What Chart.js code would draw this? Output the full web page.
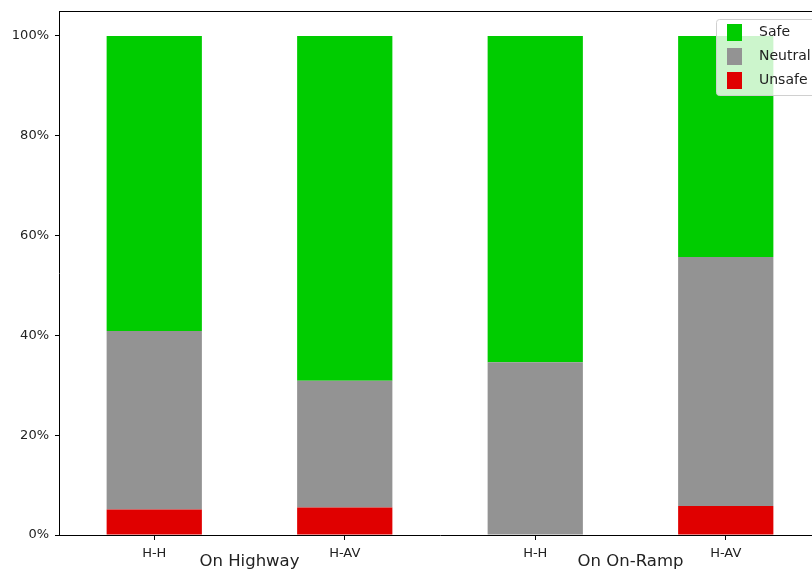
<!DOCTYPE html>
<html>
<head>
<meta charset="utf-8">
<script src="https://cdn.jsdelivr.net/npm/chart.js@4"></script>
<style>
  html, body { margin: 0; padding: 0; overflow: hidden; background: #fff; }
  #wrap { width: 830px; height: 577px; }
</style>
</head>
<body>
<div id="wrap"><canvas id="chart" width="830" height="577"></canvas></div>
<script>
// === Data ===
const categories = ["H-H", "H-AV", "H-H", "H-AV"];
const groups = ["On Highway", "On On-Ramp"];
const unsafe = [5.1, 5.5, 0, 5.8];
const neutral = [35.8, 25.4, 34.6, 49.9];
const safe = [59.1, 69.1, 65.4, 44.3];
const yTicks = [0, 20, 40, 60, 80, 100];

const C_SAFE = "#00cc00";
const C_NEUTRAL = "#939393";
const C_UNSAFE = "#e00000";
const FONT = "'DejaVu Sans', sans-serif";

// === Extras: top spine, group labels, legend ===
const extras = {
  id: "extras",
  afterDraw(chart) {
    const ctx = chart.ctx;
    const a = chart.chartArea;
    const x = chart.scales.x;

    // top spine
    ctx.save();
    ctx.strokeStyle = "#000";
    ctx.lineWidth = 1;
    ctx.beginPath();
    ctx.moveTo(a.left, a.top + 0.5);
    ctx.lineTo(a.right, a.top + 0.5);
    ctx.stroke();

    // group labels under pairs of bars
    ctx.fillStyle = "#222";
    ctx.font = "16.5px " + FONT;
    ctx.textAlign = "center";
    ctx.textBaseline = "middle";
    groups.forEach((g, i) => {
      const px = x.getPixelForValue(i * 2 + 0.5);
      ctx.fillText(g, px, 562);
    });

    // legend (top right, inside plot)
    const items = [["Safe", C_SAFE], ["Neutral", C_NEUTRAL], ["Unsafe", C_UNSAFE]];
    const bx = 716, by = 19, bw = 100, bh = 76;
    ctx.fillStyle = "rgba(255,255,255,0.8)";
    ctx.strokeStyle = "#d0d0d0";
    ctx.beginPath();
    ctx.roundRect(bx + 0.5, by + 0.5, bw, bh, 3);
    ctx.fill();
    ctx.stroke();
    ctx.font = "14px " + FONT;
    ctx.textAlign = "left";
    items.forEach(([label, col], i) => {
      const cy = 32.5 + i * 24;
      ctx.fillStyle = col;
      ctx.fillRect(727, cy - 8.5, 15, 17);
      ctx.fillStyle = "#222";
      ctx.fillText(label, 759, cy);
    });
    ctx.restore();
  }
};

// === Chart ===
new Chart(document.getElementById("chart"), {
  type: "bar",
  data: {
    labels: categories,
    datasets: [
      { label: "Unsafe", data: unsafe, backgroundColor: C_UNSAFE },
      { label: "Neutral", data: neutral, backgroundColor: C_NEUTRAL },
      { label: "Safe", data: safe, backgroundColor: C_SAFE },
    ],
  },
  options: {
    responsive: false,
    animation: false,
    layout: { padding: { left: 0, top: 11, right: 9, bottom: 0 } },
    datasets: { bar: { barPercentage: 0.5, categoryPercentage: 1.0, borderWidth: 0 } },
    plugins: { legend: { display: false }, tooltip: { enabled: false } },
    scales: {
      x: {
        stacked: true,
        offset: true,
        grid: { drawOnChartArea: false, drawTicks: true, tickLength: 5, color: "#000", offset: false },
        border: { display: true, color: "#000", width: 1 },
        ticks: { color: "#222", font: { family: FONT, size: 13 }, padding: 6, maxRotation: 0 },
        afterFit(s) { s.height = 42; s.paddingLeft = 0; s.paddingRight = 0; },
      },
      y: {
        stacked: true,
        min: 0,
        max: 105,
        grid: { drawOnChartArea: false, drawTicks: true, tickLength: 4, color: "#000" },
        border: { display: true, color: "#000", width: 1 },
        ticks: {
          color: "#222",
          font: { family: FONT, size: 13 },
          padding: 6,
          callback: v => v + "%",
        },
        afterBuildTicks(s) { s.ticks = yTicks.map(v => ({ value: v })); },
        afterFit(s) { s.width = 59; s.paddingTop = 0; s.paddingBottom = 0; },
      },
    },
  },
  plugins: [extras],
});
</script>
</body>
</html>
